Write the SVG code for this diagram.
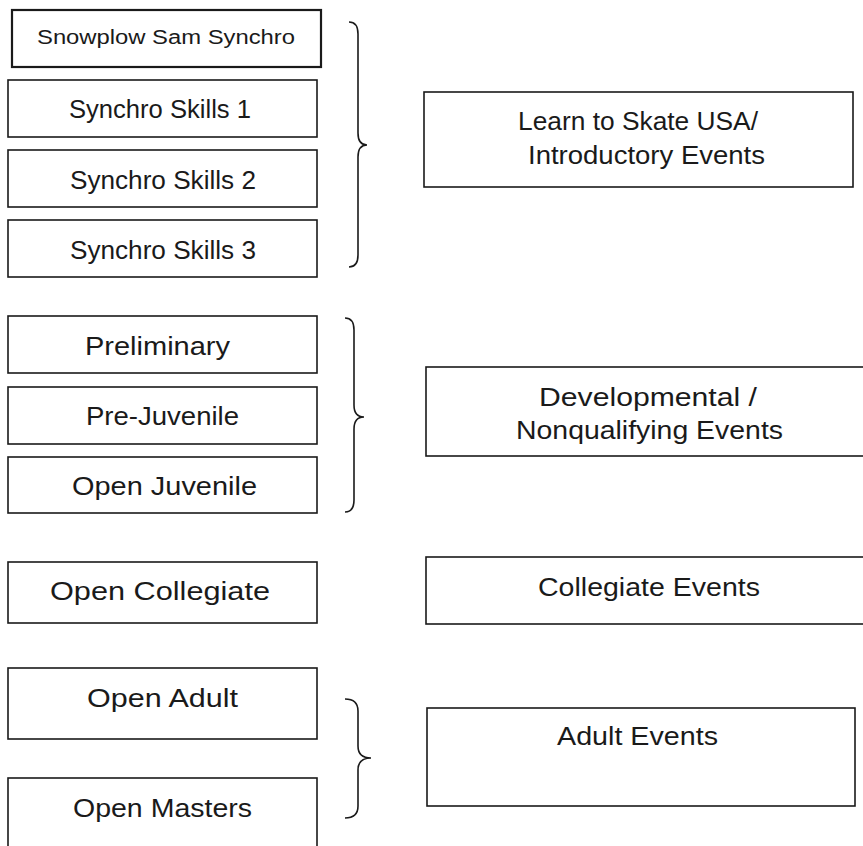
<svg xmlns="http://www.w3.org/2000/svg" width="863" height="846" viewBox="0 0 863 846">
<style>
.box{fill:#fff;stroke:#1a1a1a;stroke-width:1.6}
.thick{stroke-width:2.2}
.t{font-family:"Liberation Sans",Arial,sans-serif;font-size:25px;fill:#1a1a1a}
.s{font-size:20px}
.brace{fill:none;stroke:#1a1a1a;stroke-width:1.6}
</style>
<rect width="863" height="846" fill="#fff"/>
<g id="snowplow"><rect class="box thick" x="12" y="10" width="309" height="57"/><text class="t s" x="37" y="44" textLength="258" lengthAdjust="spacingAndGlyphs">Snowplow Sam Synchro</text></g>
<g id="skills1"><rect class="box" x="8" y="80" width="309" height="57"/><text class="t" x="69" y="118" textLength="182" lengthAdjust="spacingAndGlyphs">Synchro Skills 1</text></g>
<g id="skills2"><rect class="box" x="8" y="150" width="309" height="57"/><text class="t" x="70" y="189" textLength="186" lengthAdjust="spacingAndGlyphs">Synchro Skills 2</text></g>
<g id="skills3"><rect class="box" x="8" y="220" width="309" height="57"/><text class="t" x="70" y="259" textLength="186" lengthAdjust="spacingAndGlyphs">Synchro Skills 3</text></g>
<g id="learn"><rect class="box" x="424" y="92" width="429" height="95"/><text class="t" x="518" y="130" textLength="240" lengthAdjust="spacingAndGlyphs">Learn to Skate USA/</text><text class="t" x="528" y="164" textLength="237" lengthAdjust="spacingAndGlyphs">Introductory Events</text></g>
<g id="preliminary"><rect class="box" x="8" y="316" width="309" height="57"/><text class="t" x="85" y="355" textLength="145" lengthAdjust="spacingAndGlyphs">Preliminary</text></g>
<g id="prejuvenile"><rect class="box" x="8" y="387" width="309" height="57"/><text class="t" x="86" y="425" textLength="153" lengthAdjust="spacingAndGlyphs">Pre-Juvenile</text></g>
<g id="openjuvenile"><rect class="box" x="8" y="457" width="309" height="56"/><text class="t" x="72" y="495" textLength="185" lengthAdjust="spacingAndGlyphs">Open Juvenile</text></g>
<g id="developmental"><rect class="box" x="426" y="367" width="460" height="89"/><text class="t" x="539" y="406" textLength="218" lengthAdjust="spacingAndGlyphs">Developmental /</text><text class="t" x="516" y="439" textLength="267" lengthAdjust="spacingAndGlyphs">Nonqualifying Events</text></g>
<g id="opencollegiate"><rect class="box" x="8" y="562" width="309" height="61"/><text class="t" x="50" y="600" textLength="220" lengthAdjust="spacingAndGlyphs">Open Collegiate</text></g>
<g id="collegiate"><rect class="box" x="426" y="557" width="460" height="67"/><text class="t" x="538" y="596" textLength="222" lengthAdjust="spacingAndGlyphs">Collegiate Events</text></g>
<g id="openadult"><rect class="box" x="8" y="668" width="309" height="71"/><text class="t" x="87" y="707" textLength="151" lengthAdjust="spacingAndGlyphs">Open Adult</text></g>
<g id="openmasters"><rect class="box" x="8" y="778" width="309" height="90"/><text class="t" x="73" y="817" textLength="179" lengthAdjust="spacingAndGlyphs">Open Masters</text></g>
<g id="adult"><rect class="box" x="427" y="708" width="428" height="98"/><text class="t" x="557" y="745" textLength="161" lengthAdjust="spacingAndGlyphs">Adult Events</text></g>
<g id="connectors">
<path class="brace" d="M349 22 Q358 22 358 34 L358 133 Q358 145 367 145 Q358 145 358 157 L358 255 Q358 267 349 267"/>
<path class="brace" d="M345 318 Q354 318 354 330 L354 405 Q354 417 364 417 Q354 417 354 429 L354 500 Q354 512 345 512"/>
<path class="brace" d="M345 699 Q358 699 358 711 L358 746 Q358 758 371 758 Q358 758 358 770 L358 806 Q358 818 345 818"/>
</g>
</svg>
